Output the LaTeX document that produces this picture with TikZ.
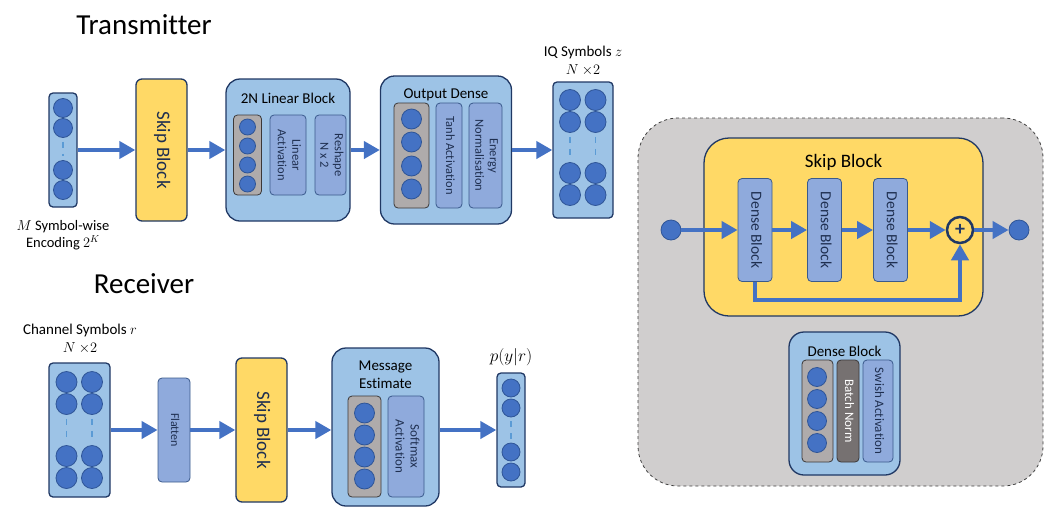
\documentclass[tikz,border=0pt]{standalone}
\usepackage{fontspec}
\setmainfont{Carlito}[Ligatures=CommonOff]
\usepackage{graphicx}
\usetikzlibrary{arrows.meta,calc}
\definecolor{ltblue}{HTML}{9DC3E6}
\definecolor{navy}{HTML}{203864}
\definecolor{inblue}{HTML}{8FAADC}
\definecolor{inbord}{HTML}{3A5A8C}
\definecolor{circ}{HTML}{4472C4}
\definecolor{circd}{HTML}{2F5597}
\definecolor{glayer}{HTML}{AFABAB}
\definecolor{gbord}{HTML}{3B3838}
\definecolor{ylw}{HTML}{FFD966}
\definecolor{bnorm}{HTML}{767171}
\definecolor{panel}{HTML}{D0CECE}
\definecolor{arrc}{HTML}{4472C4}
\definecolor{dashc}{HTML}{5B9BD5}
\definecolor{lbl}{HTML}{1F2F50}
\newcommand{\rotlbl}[1]{\rotatebox{-90}{\begin{tabular}{@{}c@{}}#1\end{tabular}}}
\begin{document}
\begin{tikzpicture}[x=1pt,y=-1pt,
  big/.style={draw=navy, fill=ltblue, line width=1.3pt, rounded corners=14pt, rectangle, inner sep=0pt},
  vec/.style={draw=navy, fill=ltblue, line width=1.3pt, rounded corners=4pt, rectangle, inner sep=0pt},
  inner/.style={draw=inbord, fill=inblue, line width=0.8pt, rounded corners=4pt, rectangle, inner sep=0pt, text=lbl, font=\fontsize{12.5}{14.5}\selectfont},
  grayl/.style={draw=gbord, fill=glayer, line width=0.8pt, rounded corners=4pt, rectangle, inner sep=0pt},
  skipbox/.style={draw=navy, fill=ylw, line width=1.3pt, rounded corners=6pt, rectangle, inner sep=0pt, text=lbl, font=\fontsize{19}{22}\selectfont},
  neu/.style={circle, draw=circd, fill=circ, line width=0.8pt, inner sep=0pt, minimum size=#1},
  arr/.style={draw=arrc, line width=4.5pt, -{Triangle[length=16pt,width=17pt]}},
  dl/.style={draw=dashc, line width=1.6pt, dash pattern=on 6pt off 6pt, shorten <=4pt, shorten >=4pt},
  ttl/.style={font=\fontsize{15}{18}\selectfont, text=black, align=center, inner sep=0pt},
  head/.style={font=\fontsize{29}{34}\selectfont, text=black, inner sep=0pt}
]
\useasboundingbox (0,0) rectangle (1051,509);

% ===== Transmitter =====
\node[head] (tx) at (144,25) {Transmitter};

\node[vec, minimum width=28, minimum height=114] (vin) at (63,150) {};
\foreach \y [count=\i] in {108,128,170,190} \node[neu=19] (vin\i) at (63,\y) {};
\draw[dl] (vin2) -- (vin3);
\node[ttl, font=\fontsize{14.5}{17}\selectfont] (vinlbl) at (63,235) {$M$ Symbol-wise\\Encoding $2^K$};

\node[skipbox, minimum width=51, minimum height=142] (skipA) at (161.5,150) {\rotlbl{Skip Block}};

\node[big, minimum width=124, minimum height=142] (lin) at (288,150) {};
\node[ttl] (lint) at (288,98) {2N Linear Block};
\node[grayl, minimum width=28, minimum height=80] (linG) at (247.5,155) {};
\foreach \y [count=\i] in {127,146,165,184} \node[neu=16] (lin\i) at (247.5,\y) {};
\node[inner, minimum width=36, minimum height=80] (linAct) at (288,155) {\rotlbl{Linear\\Activation}};
\node[inner, minimum width=31, minimum height=80] (linRes) at (330.5,155) {\rotlbl{Reshape\\N x 2}};

\node[big, minimum width=131, minimum height=148] (outd) at (446,150) {};
\node[ttl] (outt) at (446,95) {Output Dense};
\node[grayl, minimum width=35, minimum height=105] (outG) at (411.5,155.5) {};
\foreach \y [count=\i] in {119,142,166,189} \node[neu=20] (out\i) at (411.5,\y) {};
\node[inner, minimum width=26, minimum height=105] (outTanh) at (449,155.5) {\rotlbl{Tanh Activation}};
\node[inner, minimum width=33, minimum height=105] (outEn) at (485.5,155.5) {\rotlbl{Energy\\Normalisation}};

\node[vec, minimum width=60, minimum height=136] (iq) at (583,150) {};
\foreach \y [count=\i] in {100,122,173,195} {
  \node[neu=21] (iqa\i) at (570,\y) {};
  \node[neu=21] (iqb\i) at (595.5,\y) {};
}
\draw[dl] (iqa2) -- (iqa3);
\draw[dl] (iqb2) -- (iqb3);
\node[ttl] (iqlbl) at (583,61) {IQ Symbols $z$\\$N\ {\times}2$};

\draw[arr] (vin) -- (skipA);
\draw[arr] (skipA) -- (lin);
\draw[arr] (lin) -- (outd);
\draw[arr] (outd) -- (iq);

% ===== Receiver =====
\node[head] (rx) at (144,284) {Receiver};

\node[vec, minimum width=61, minimum height=134] (rin) at (79.5,430) {};
\foreach \y [count=\i] in {382,404,456,478} {
  \node[neu=21] (rina\i) at (66.5,\y) {};
  \node[neu=21] (rinb\i) at (92,\y) {};
}
\draw[dl] (rina2) -- (rina3);
\draw[dl] (rinb2) -- (rinb3);
\node[ttl] (rinlbl) at (80,339) {Channel Symbols $r$\\$N\ {\times}2$};

\node[inner, minimum width=32, minimum height=104, font=\fontsize{12}{14}\selectfont] (flat) at (174,430) {\rotlbl{Flatten}};
\node[skipbox, minimum width=51, minimum height=144] (skipB) at (261.5,430) {\rotlbl{Skip Block}};

\node[big, minimum width=107, minimum height=158] (msg) at (385.5,427) {};
\node[ttl] (msgt) at (385.5,375) {Message\\Estimate};
\node[grayl, minimum width=33, minimum height=101] (msgG) at (364.5,446.5) {};
\foreach \y [count=\i] in {413,435,457,479} \node[neu=20] (msg\i) at (364.5,\y) {};
\node[inner, minimum width=36, minimum height=101, font=\fontsize{13}{15}\selectfont] (msgS) at (406,446.5) {\rotlbl{Softmax\\Activation}};

\node[vec, minimum width=28, minimum height=114] (pout) at (511,430) {};
\foreach \y [count=\i] in {388,408,452,472} \node[neu=18] (pout\i) at (511,\y) {};
\draw[dl] (pout2) -- (pout3);
\node[ttl, font=\fontsize{16}{19}\selectfont] (plbl) at (511,357) {$p(y|r)$};

\draw[arr] (rin) -- (flat);
\draw[arr] (flat) -- (skipB);
\draw[arr] (skipB) -- (skipB -| msg.west);
\draw[arr] (msg.east |- pout) -- (pout);

% ===== Right panel =====
\node[rectangle, draw=black!75, dashed, line width=0.8pt, fill=panel, rounded corners=40pt, minimum width=405, minimum height=368, inner sep=0pt] (panel) at (840.5,302) {};
\node[skipbox, rounded corners=25pt, minimum width=279, minimum height=178] (skipC) at (843.5,227) {};
\node[ttl, font=\fontsize{19}{22}\selectfont] (skipCt) at (843.5,162) {Skip Block};

\node[inner, minimum width=34, minimum height=103, font=\fontsize{15.5}{18}\selectfont] (d1) at (755,230) {\rotlbl{Dense Block}};
\node[inner, minimum width=34, minimum height=103, font=\fontsize{15.5}{18}\selectfont] (d2) at (824.5,230) {\rotlbl{Dense Block}};
\node[inner, minimum width=34, minimum height=103, font=\fontsize{15.5}{18}\selectfont] (d3) at (890.5,230) {\rotlbl{Dense Block}};
\node[neu=20] (inC) at (671,230) {};
\node[neu=20] (outC) at (1019,230) {};
\node[circle, draw=navy, fill=ylw, line width=2.5pt, minimum size=26, inner sep=0pt, text=navy, font=\fontsize{20}{20}\selectfont\bfseries] (plus) at (960,230) {+};
\coordinate (skc) at (850,300);

\draw[arr] (inC) -- (d1);
\draw[arr] (d1) -- (d2);
\draw[arr] (d2) -- (d3);
\draw[arr] (d3) -- (plus);
\draw[arr] (plus) -- (outC);
\draw[arr] (d1.south) |- (skc) -| (plus.south);

% Dense block legend
\node[big, rounded corners=15pt, minimum width=111, minimum height=143] (dleg) at (844.5,403.5) {};
\node[ttl] (dlegt) at (844.5,351) {Dense Block};
\node[grayl, minimum width=31, minimum height=102] (dlG) at (817.5,411) {};
\foreach \y [count=\i] in {377,399,421,443} \node[neu=19] (dl\i) at (817,\y) {};
\node[rectangle, draw=gbord, fill=bnorm, line width=0.8pt, rounded corners=4pt, inner sep=0pt, minimum width=22, minimum height=102, text=white, font=\fontsize{13}{15}\selectfont] (bn) at (848,411) {\rotlbl{Batch Norm}};
\node[inner, minimum width=30, minimum height=102, font=\fontsize{13}{15}\selectfont] (sw) at (878,411) {\rotlbl{Swish Activation}};
\end{tikzpicture}
\end{document}
